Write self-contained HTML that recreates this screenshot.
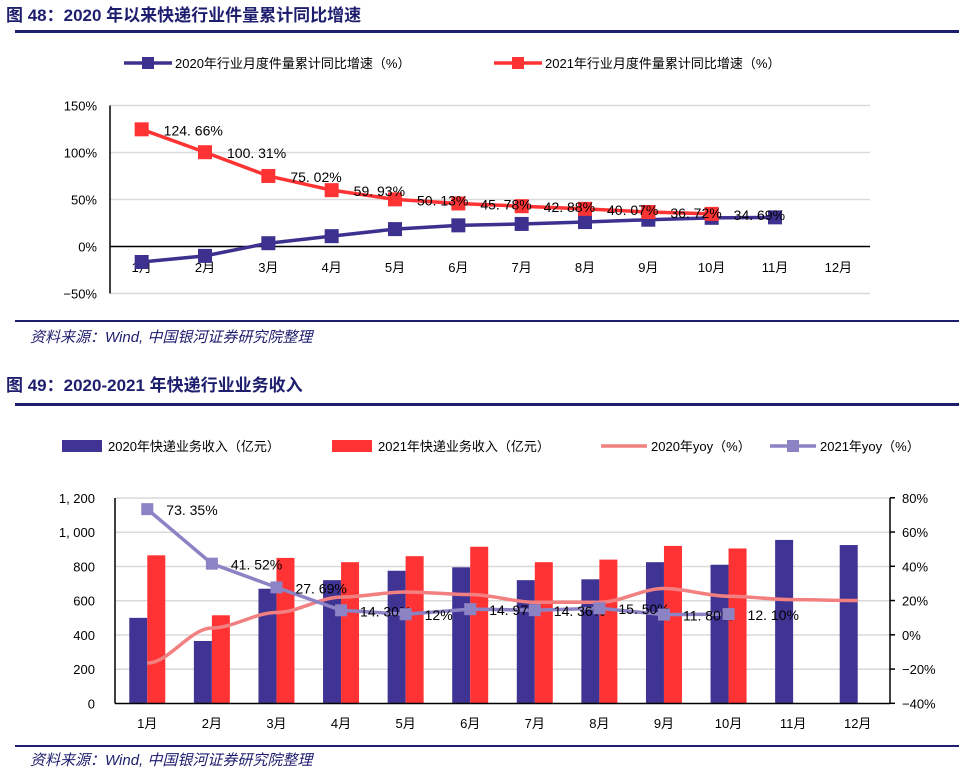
<!DOCTYPE html>
<html><head><meta charset="utf-8">
<style>
body{margin:0;width:959px;height:772px;background:#fff;overflow:hidden;font-family:"Liberation Sans","Noto Sans CJK SC",sans-serif;}
svg text{font-family:"Liberation Sans","Noto Sans CJK SC",sans-serif;}
</style></head>
<body>
<svg width="959" height="772">
<text x="6" y="21" font-size="17" font-weight="bold" fill="#1e1e6e">图 48：2020 年以来快递行业件量累计同比增速</text>
<rect x="15" y="30" width="944" height="3" fill="#1e1e6e"/>
<g id="c1"></g>
<rect x="15" y="320" width="944" height="2" fill="#1e1e6e"/>
<text x="30" y="342" font-size="15" font-style="italic" fill="#1e1e6e">资料来源：Wind, 中国银河证券研究院整理</text>
<text x="6" y="391" font-size="17" font-weight="bold" fill="#1e1e6e">图 49：2020-2021 年快递行业业务收入</text>
<rect x="15" y="403" width="944" height="3" fill="#1e1e6e"/>
<g id="c2"></g>
<rect x="15" y="745" width="944" height="2" fill="#1e1e6e"/>
<text x="30" y="765" font-size="15" font-style="italic" fill="#1e1e6e">资料来源：Wind, 中国银河证券研究院整理</text>
</svg>
<script>
const months=["1月","2月","3月","4月","5月","6月","7月","8月","9月","10月","11月","12月"];
const cum2020=[-16.5,-10,3.5,11,18.5,22.5,24,26,28.5,30.5,31];
const cum2021=[124.66,100.31,75.02,59.93,50.13,45.78,42.88,40.07,36.72,34.69];
const cum2021Labels=["124.66%","100.31%","75.02%","59.93%","50.13%","45.78%","42.88%","40.07%","36.72%","34.69%"];
const ticks1=[150,100,50,0,-50];
const rev2020=[500,365,670,720,775,795,720,725,825,810,955,925];
const rev2021=[865,515,850,825,860,915,825,840,920,905];
const yoy2020=[-16.5,4,13,22,25,23.5,19,19,27,22.5,20.5,20];
const yoy2021=[73.35,41.52,27.69,14.30,12,14.97,14.36,15.50,11.80,12.10];
const yoy2021Labels=["73.35%","41.52%","27.69%","14.30%","12%","14.97%","14.36%","15.50%","11.80%","12.10%"];
const leftTicks=[0,200,400,600,800,1000,1200];
const rightTicks=[80,60,40,20,0,-20,-40];
const NS="http://www.w3.org/2000/svg";
function mk(p,t,a){const e=document.createElementNS(NS,t);for(const k in a)e.setAttribute(k,a[k]);p.appendChild(e);return e;}
// chart 1
const g1=document.getElementById('c1');
const x1L=110,x1R=870,y1=v=>246.5-v*0.94;
const x1=i=>x1L+(i+0.5)*(x1R-x1L)/12;
ticks1.forEach(t=>{
 const l=mk(g1,'line',{x1:x1L,x2:x1R,y1:y1(t),y2:y1(t),stroke:t===0?'#000':'#d9d9d9','stroke-width':t===0?1.5:1.5});
 
 
 const tx=mk(g1,'text',{x:97,y:y1(t)+5,'font-size':13,'text-anchor':'end'});tx.textContent=(t<0?'−':'')+Math.abs(t)+'%';
 
 
});
{const a=mk(g1,'line',{x1:x1L,x2:x1L,y1:y1(150),y2:y1(-50),stroke:'#000','stroke-width':1.5});

}
months.forEach((m,i)=>{const t=mk(g1,'text',{x:x1(i),y:272,'font-size':13,'text-anchor':'middle'});t.textContent=m;

});
function series1(vals,col,name){
 const p=mk(g1,'polyline',{points:vals.map((v,i)=>x1(i)+','+y1(v)).join(' '),fill:'none',stroke:col,'stroke-width':3.5});
 
 
 vals.forEach((v,i)=>{const r=mk(g1,'rect',{x:x1(i)-7,y:y1(v)-7,width:14,height:14,fill:col});
 
 });
}
series1(cum2020,'#3d3190','series-2020');
series1(cum2021,'#ff3333','series-2021');
cum2021.forEach((v,i)=>{const t=mk(g1,'text',{x:x1(i)+22,y:y1(v)+6,'font-size':14});t.textContent=cum2021Labels[i].replace('.', '. ');

});
// legend 1
function legLine(g,x,y,col,txt,name){
 const l=mk(g,'line',{x1:x,x2:x+48,y1:y,y2:y,stroke:col,'stroke-width':3.5});
 
 
 const r=mk(g,'rect',{x:x+18,y:y-6,width:12,height:12,fill:col});
 
 
 const t=mk(g,'text',{x:x+51,y:y+5,'font-size':13});t.textContent=txt;
 
 
}
legLine(g1,124,63,'#3d3190','2020年行业月度件量累计同比增速（%）','legend-2020');
legLine(g1,494,63,'#ff3333','2021年行业月度件量累计同比增速（%）','legend-2021');
// chart 2
const g2=document.getElementById('c2');
const x2L=115,x2R=890,yL=v=>703.5-v*0.1713,yR=v=>634.8-v*1.713;
const x2=i=>x2L+(i+0.5)*(x2R-x2L)/12;
leftTicks.forEach(t=>{
 if(t>0){const l=mk(g2,'line',{x1:x2L,x2:x2R,y1:yL(t),y2:yL(t),stroke:'#d9d9d9','stroke-width':1.5});
 
 }
 const tx=mk(g2,'text',{x:95,y:yL(t)+5,'font-size':13,'text-anchor':'end'});tx.textContent=t>=1000?Math.floor(t/1000)+', '+String(t%1000).padStart(3,'0'):String(t);
 
 
});
rightTicks.forEach(t=>{
 const tk=mk(g2,'line',{x1:x2R,x2:x2R+5,y1:yR(t),y2:yR(t),stroke:'#000','stroke-width':1.5});
 
 
 const tx=mk(g2,'text',{x:x2R+12,y:yR(t)+5,'font-size':13});tx.textContent=(t<0?'−':'')+Math.abs(t)+'%';
 
 
});
rev2020.forEach((v,i)=>{const r=mk(g2,'rect',{x:x2(i)-18,y:yL(v),width:18,height:yL(0)-yL(v),fill:'#3f3393'});

});
rev2021.forEach((v,i)=>{const r=mk(g2,'rect',{x:x2(i),y:yL(v),width:18,height:yL(0)-yL(v),fill:'#ff3333'});

});
{const a=mk(g2,'line',{x1:x2L,x2:x2L,y1:yL(1200),y2:yL(0),stroke:'#000','stroke-width':1.5});


const b=mk(g2,'line',{x1:x2R,x2:x2R,y1:yL(1200),y2:yL(0),stroke:'#000','stroke-width':1.5});


const c=mk(g2,'line',{x1:x2L,x2:x2R,y1:yL(0),y2:yL(0),stroke:'#000','stroke-width':1.5});

}
months.forEach((m,i)=>{const t=mk(g2,'text',{x:x2(i),y:728,'font-size':13,'text-anchor':'middle'});t.textContent=m;

});
{let d='M'+x2(0)+','+yR(yoy2020[0]);
for(let i=1;i<yoy2020.length;i++){const xa=x2(i-1),xb=x2(i),ya=yR(yoy2020[i-1]),yb=yR(yoy2020[i]);d+=` C${xa+(xb-xa)/3},${ya} ${xb-(xb-xa)/3},${yb} ${xb},${yb}`;}
const p=mk(g2,'path',{d:d,fill:'none',stroke:'#f28080','stroke-width':3.5});

}
{const p=mk(g2,'polyline',{points:yoy2021.map((v,i)=>x2(i)+','+yR(v)).join(' '),fill:'none',stroke:'#8c83c4','stroke-width':3.5});

}
yoy2021.forEach((v,i)=>{const r=mk(g2,'rect',{x:x2(i)-6,y:yR(v)-6,width:12,height:12,fill:'#8c83c4'});


const t=mk(g2,'text',{x:x2(i)+19,y:yR(v)+6,'font-size':14});t.textContent=yoy2021Labels[i].replace('.', '. ');

});
// legend 2
function legBox(x,col,txt,name){const r=mk(g2,'rect',{x:x,y:440,width:40,height:12,fill:col});


const t=mk(g2,'text',{x:x+46,y:451,'font-size':13});t.textContent=txt;

}
legBox(62,'#3f3393','2020年快递业务收入（亿元）','legend-2020-revenue');
legBox(332,'#ff3333','2021年快递业务收入（亿元）','legend-2021-revenue');
{const l=mk(g2,'line',{x1:601,x2:647,y1:446,y2:446,stroke:'#f28080','stroke-width':3.5});


const t=mk(g2,'text',{x:651,y:451,'font-size':13});t.textContent='2020年yoy（%）';


const l2=mk(g2,'line',{x1:770,x2:816,y1:446,y2:446,stroke:'#8c83c4','stroke-width':3.5});


const r2=mk(g2,'rect',{x:787,y:440,width:12,height:12,fill:'#8c83c4'});


const t2=mk(g2,'text',{x:820,y:451,'font-size':13});t2.textContent='2021年yoy（%）';

}
</script>
</body></html>
